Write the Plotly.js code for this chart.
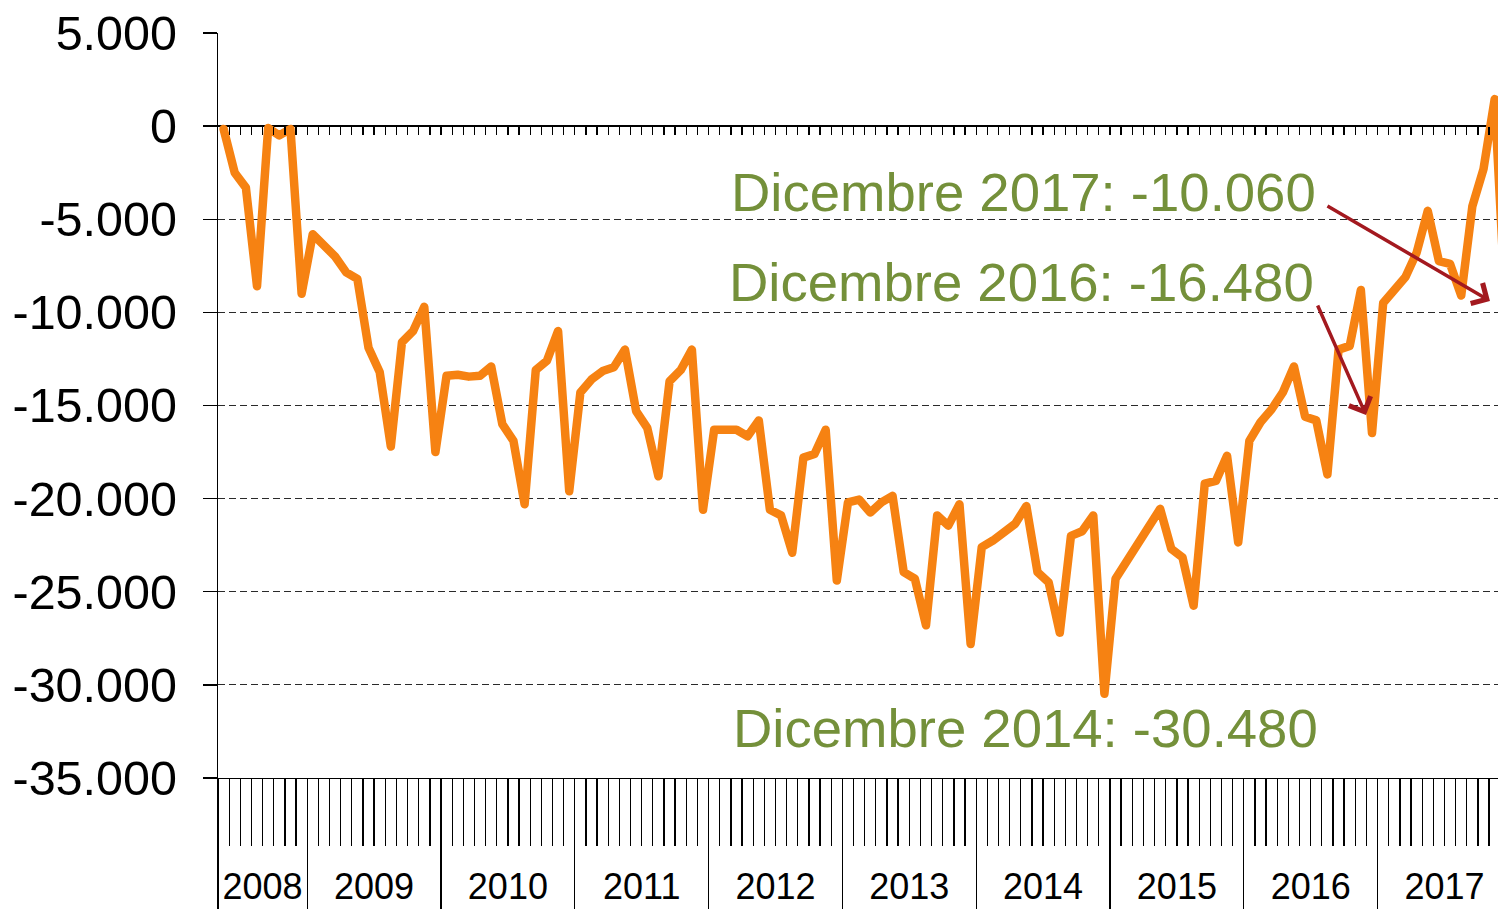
<!DOCTYPE html>
<html>
<head>
<meta charset="utf-8">
<script src="https://cdn.plot.ly/plotly-3.0.1.min.js"></script>
<style>
  html, body { margin: 0; padding: 0; background: #ffffff; }
  #chart { width: 1498px; height: 909px; }
  #chart path.js-line { stroke-linejoin: round !important; stroke-linecap: round !important; }
</style>
</head>
<body>
<div id="chart"></div>
<script>
// Monthly values, May 2008 .. Dec 2017
const years = ['2008', '2009', '2010', '2011', '2012', '2013', '2014', '2015', '2016', '2017'];
const monthsPerYear = [8, 12, 12, 12, 12, 12, 12, 12, 12, 12];

const v2008 = [-150, -2500, -3300, -8600, -100, -500, -150, -9000];
const v2009 = [-5800, -6400, -7000, -7850, -8200, -11900, -13200, -17200, -11600, -11000, -9700, -17500];
const v2010 = [-13400, -13350, -13450, -13400, -12900, -16000, -16900, -20300, -13100, -12600, -11000, -19600];
const v2011 = [-14300, -13600, -13150, -12950, -12000, -15300, -16200, -18800, -13700, -13100, -12000, -20600];
const v2012 = [-16300, -16300, -16300, -16650, -15800, -20600, -20900, -22900, -17800, -17600, -16300, -24400];
const v2013 = [-20200, -20050, -20750, -20200, -19850, -23950, -24300, -26800, -20900, -21450, -20300, -27800];
const v2014 = [-22600, -22250, -21800, -21350, -20400, -23950, -24500, -27200, -22000, -21750, -20900, -30480];
const v2015 = [-24300, -23350, -22500, -21450, -20550, -22700, -23150, -25750, -19200, -19050, -17700, -22350];
const v2016 = [-16900, -15900, -15200, -14300, -12900, -15600, -15800, -18700, -12000, -11800, -8800, -16480];
const v2017 = [-9500, -8800, -8100, -6800, -4550, -7250, -7400, -9100, -4300, -2300, 1450, -10060];

const yTickVals = [5000, 0, -5000, -10000, -15000, -20000, -25000, -30000, -35000];
const yTickText = ['5.000', '0', '-5.000', '-10.000', '-15.000', '-20.000', '-25.000', '-30.000', '-35.000'];

const noteTexts = ['Dicembre 2017: -10.060', 'Dicembre 2016: -16.480', 'Dicembre 2014: -30.480'];

// ---- build
const values = [].concat(v2008, v2009, v2010, v2011, v2012, v2013, v2014, v2015, v2016, v2017);
const idx = values.map((_, i) => i);
const nMonths = values.length;

const monthBounds = [];
for (let i = 0; i <= nMonths; i++) monthBounds.push(i - 0.5);

const yearBounds = [];
const yearCenters = [];
let acc = 0;
monthsPerYear.forEach(n => {
  yearBounds.push(acc - 0.5);
  yearCenters.push(acc - 0.5 + n / 2);
  acc += n;
});
yearBounds.push(acc - 0.5);

const xRange = [-0.5, 114.3];
const fontFam = '"Liberation Sans", Arial, sans-serif';
const olive = '#74903A';
const arrowRed = '#A3191F';

const trace = {
  x: idx, y: values, type: 'scatter', mode: 'lines',
  line: { color: '#F68212', width: 8.5 },
  hoverinfo: 'skip', showlegend: false
};
// empty helper traces so the overlaid tick axes are drawn
const helpers = ['x2', 'x3', 'x4'].map(ax => ({
  x: [], y: [], type: 'scatter', mode: 'lines', xaxis: ax, yaxis: 'y',
  hoverinfo: 'skip', showlegend: false
}));

const baseX = {
  range: xRange, showgrid: false, zeroline: false, fixedrange: true
};

const layout = {
  width: 1498, height: 909,
  margin: { l: 218, r: 0, t: 33, b: 131, pad: 0 },
  paper_bgcolor: '#ffffff', plot_bgcolor: '#ffffff',
  showlegend: false,
  font: { family: fontFam, color: '#000000' },
  xaxis: Object.assign({}, baseX, {
    tickmode: 'array', tickvals: monthBounds, ticks: 'outside', ticklen: 67,
    tickwidth: 1.3, tickcolor: '#000000', showticklabels: false,
    showline: true, linecolor: '#000000', linewidth: 1.3
  }),
  xaxis2: Object.assign({}, baseX, {
    overlaying: 'x', anchor: 'y', side: 'bottom',
    tickmode: 'array', tickvals: yearBounds, ticks: 'outside', ticklen: 131,
    tickwidth: 1.3, tickcolor: '#000000', showticklabels: false, showline: false
  }),
  xaxis3: Object.assign({}, baseX, {
    overlaying: 'x', anchor: 'y', side: 'bottom',
    tickmode: 'array', tickvals: yearCenters, ticktext: years,
    ticks: 'outside', ticklen: 77, tickcolor: 'rgba(0,0,0,0)',
    tickfont: { family: fontFam, size: 36, color: '#000000' }, showline: false
  }),
  xaxis4: Object.assign({}, baseX, {
    overlaying: 'x', anchor: 'free', position: 0.875, side: 'bottom',
    tickmode: 'array', tickvals: monthBounds.slice(1), ticks: 'outside', ticklen: 8,
    tickwidth: 1.3, tickcolor: '#000000', showticklabels: false, showline: false
  }),
  yaxis: {
    range: [-35000, 5000], fixedrange: true,
    tickmode: 'array', tickvals: yTickVals, ticktext: yTickText,
    ticks: 'outside', ticklen: 14, tickwidth: 1.3, tickcolor: '#000000',
    ticklabelstandoff: 16,
    tickfont: { family: fontFam, size: 48.5, color: '#000000' },
    showgrid: true, gridcolor: '#2a2a2a', gridwidth: 1.2, griddash: '7px,4px',
    zeroline: true, zerolinecolor: '#000000', zerolinewidth: 1.6,
    showline: true, linecolor: '#000000', linewidth: 1.3
  },
  annotations: [
    { xref: 'x', yref: 'y', x: 98.15, y: -3550, text: noteTexts[0], showarrow: false,
      xanchor: 'right', yanchor: 'middle', font: { family: fontFam, size: 54.5, color: olive } },
    { xref: 'x', yref: 'y', x: 98.0, y: -8400, text: noteTexts[1], showarrow: false,
      xanchor: 'right', yanchor: 'middle', font: { family: fontFam, size: 54.5, color: olive } },
    { xref: 'x', yref: 'y', x: 98.35, y: -32350, text: noteTexts[2], showarrow: false,
      xanchor: 'right', yanchor: 'middle', font: { family: fontFam, size: 54.5, color: olive } },
    { xref: 'x', yref: 'y', x: 113.58, y: -9390, ax: -164, ay: -96, text: '',
      showarrow: true, arrowhead: 4, arrowsize: 1.3, arrowwidth: 3.5, arrowcolor: arrowRed, standoff: 0 },
    { xref: 'x', yref: 'y', x: 102.46, y: -15510, ax: -49, ay: -111, text: '',
      showarrow: true, arrowhead: 4, arrowsize: 1.3, arrowwidth: 3.5, arrowcolor: arrowRed, standoff: 0 }
  ]
};

Plotly.newPlot('chart', [trace].concat(helpers), layout, { staticPlot: true, displayModeBar: false });
</script>
</body>
</html>
